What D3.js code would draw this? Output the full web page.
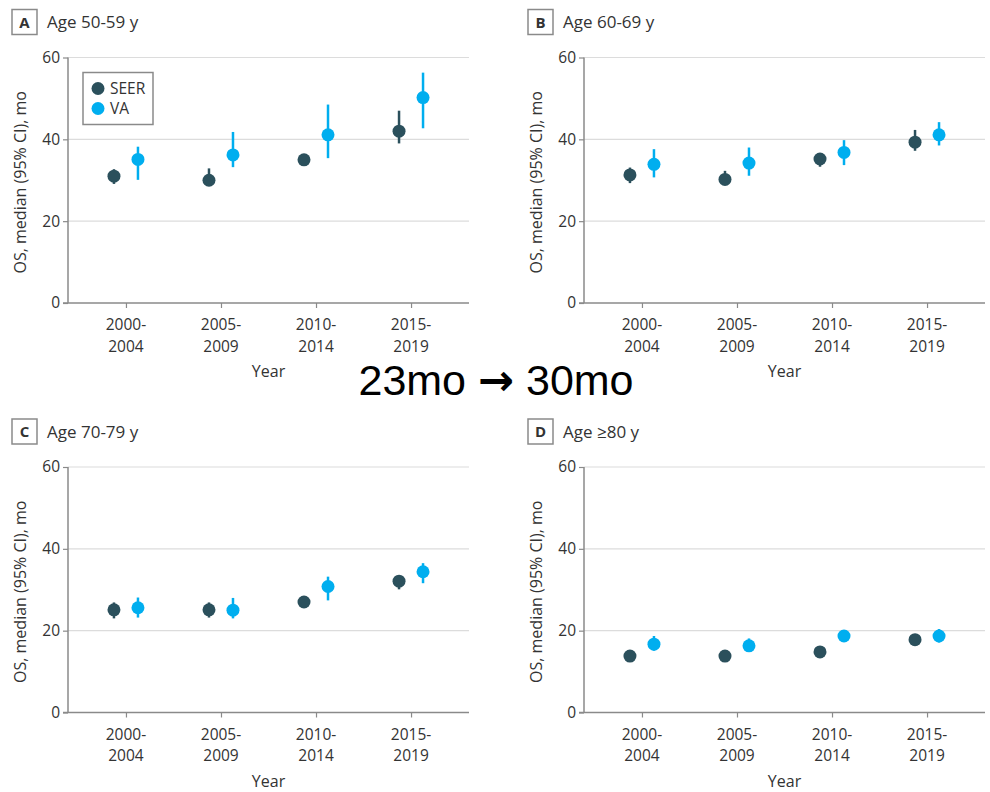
<!DOCTYPE html>
<html>
<head>
<meta charset="utf-8">
<title>OS by age group</title>
<script src="https://d3js.org/d3.v7.min.js"></script>
<style>
	body { margin: 0; background: #fff; }
	text { font-family: "Open Sans", "Noto Sans", sans-serif; fill: #333; }
</style>
</head>
<body>
<div id="container"></div>
<script>

//Data (median OS in months, with 95% CI)
var periods = ["2000-2004", "2005-2009", "2010-2014", "2015-2019"];
var tickTop = ["2000-", "2005-", "2010-", "2015-"];
var tickBottom = ["2004", "2009", "2014", "2019"];
var panelLetters = ["A", "B", "C", "D"];
var panelTitles = ["Age 50-59 y", "Age 60-69 y", "Age 70-79 y", "Age \u226580 y"];
var yTicks = [0, 20, 40, 60];

var seerMedian = [[31, 30, 35, 42], [31.3, 30.2, 35.2, 39.3], [25.1, 25.1, 27, 32.1], [13.8, 13.8, 14.8, 17.8]];
var seerLow = [[29.1, 28.9, 34, 39], [29.3, 28.9, 33.3, 37.2], [23, 23.2, 26, 30.1], [13, 13, 14, 17]];
var seerHigh = [[32.7, 32.9, 36, 47], [33.1, 32.3, 36.6, 42.3], [26.9, 26.9, 28, 33.4], [14.6, 14.6, 15.6, 18.6]];

var vaMedian = [[35.1, 36.2, 41.1, 50.2], [33.9, 34.2, 36.8, 41.1], [25.6, 25, 30.8, 34.4], [16.7, 16.3, 18.7, 18.7]];
var vaLow = [[30.1, 33.2, 35.4, 42.7], [30.7, 31.1, 33.7, 38.5], [23.2, 23, 27.4, 31.6], [15.1, 14.8, 17.6, 17.1]];
var vaHigh = [[38.2, 41.8, 48.5, 56.3], [37.6, 38, 39.8, 44.2], [28.1, 28, 33.2, 36.5], [18.7, 18.1, 19.8, 20.4]];

var seriesNames = ["SEER", "VA"];
var seriesColors = ["#2b505c", "#00aeef"];

var width = 990, height = 792;

var svg = d3.select("#container")
	.append("svg")
	.attr("width", width)
	.attr("height", height);

//Plot geometry
var plotW = 401, plotH = 245.5;
var colLeft = [68, 584];
var rowTop = [57.5, 467];

var x = d3.scalePoint().domain(periods).range([0, plotW]).padding(0.61);
var y = d3.scaleLinear().domain([0, 60]).range([plotH, 0]);
var dotOffset = 12;

panelLetters.forEach(function(letter, p) {
	var left = colLeft[p % 2];
	var top = rowTop[Math.floor(p / 2)];
	var g = svg.append("g").attr("transform", "translate(" + left + "," + top + ")");

	//Panel label box and title
	g.append("rect")
		.attr("x", -56).attr("y", -48)
		.attr("width", 25).attr("height", 25)
		.attr("fill", "#fff").attr("stroke", "#8a8a8a").attr("stroke-width", 1.5);
	g.append("text")
		.attr("x", -43.5).attr("y", -30)
		.attr("text-anchor", "middle")
		.style("font-size", "15px").style("font-weight", "bold")
		.text(letter);
	g.append("text")
		.attr("x", -21).attr("y", -29.5)
		.style("font-size", "17px")
		.text(panelTitles[p]);

	//Gridlines
	g.selectAll(".grid")
		.data(yTicks.filter(function(d) { return d > 0; }))
		.enter().append("line")
		.attr("x1", 0).attr("x2", plotW)
		.attr("y1", function(d) { return y(d); })
		.attr("y2", function(d) { return y(d); })
		.attr("stroke", "#dcdcdc").attr("stroke-width", 1.2);

	//Y axis
	var yAxis = g.append("g")
		.call(d3.axisLeft(y).tickValues(yTicks).tickSize(5).tickPadding(3));
	yAxis.select(".domain").attr("stroke", "#8a8a8a").attr("stroke-width", 1.5)
		.attr("d", "M0," + plotH + "V0");
	yAxis.selectAll(".tick line").attr("stroke", "#8a8a8a").attr("stroke-width", 1.2);
	yAxis.selectAll(".tick text").style("font-size", "15.5px").attr("fill", "#333")
		.style("font-family", "'Open Sans', sans-serif");

	//X axis
	var xAxis = g.append("g")
		.attr("transform", "translate(0," + plotH + ")")
		.call(d3.axisBottom(x).tickSize(5).tickFormat(""));
	xAxis.select(".domain").attr("stroke", "#8a8a8a").attr("stroke-width", 1.5)
		.attr("d", "M-5,0H" + plotW);
	xAxis.selectAll(".tick line").attr("stroke", "#8a8a8a").attr("stroke-width", 1.2);

	var labels = g.selectAll(".xlab")
		.data(periods)
		.enter().append("text")
		.attr("text-anchor", "middle")
		.style("font-size", "15.5px")
		.attr("transform", function(d) { return "translate(" + x(d) + "," + plotH + ")"; });
	labels.append("tspan").attr("x", 0).attr("y", 27)
		.text(function(d, i) { return tickTop[i]; });
	labels.append("tspan").attr("x", 0).attr("y", 48.5)
		.text(function(d, i) { return tickBottom[i]; });

	g.append("text")
		.attr("x", plotW / 2).attr("y", plotH + 74)
		.attr("text-anchor", "middle")
		.style("font-size", "16px")
		.text("Year");

	g.append("text")
		.attr("transform", "translate(-42," + (plotH / 2 + 2) + ") rotate(-90)")
		.attr("text-anchor", "middle")
		.style("font-size", "16px")
		.text("OS, median (95% CI), mo");

	//Points with CI bars
	var series = [
		{ med: seerMedian[p], lo: seerLow[p], hi: seerHigh[p], off: -dotOffset, color: seriesColors[0] },
		{ med: vaMedian[p], lo: vaLow[p], hi: vaHigh[p], off: dotOffset, color: seriesColors[1] }
	];
	series.forEach(function(s) {
		var sg = g.append("g");
		sg.selectAll("line")
			.data(periods)
			.enter().append("line")
			.attr("x1", function(d) { return x(d) + s.off; })
			.attr("x2", function(d) { return x(d) + s.off; })
			.attr("y1", function(d, i) { return y(s.lo[i]); })
			.attr("y2", function(d, i) { return y(s.hi[i]); })
			.attr("stroke", s.color).attr("stroke-width", 2.5);
		sg.selectAll("circle")
			.data(periods)
			.enter().append("circle")
			.attr("cx", function(d) { return x(d) + s.off; })
			.attr("cy", function(d, i) { return y(s.med[i]); })
			.attr("r", 6.5)
			.attr("fill", s.color);
	});

	//Legend only in first panel
	if (p === 0) {
		var lg = g.append("g").attr("transform", "translate(15,15)");
		lg.append("rect")
			.attr("width", 70).attr("height", 52)
			.attr("fill", "#fff").attr("stroke", "#8a8a8a").attr("stroke-width", 1.5);
		seriesNames.forEach(function(name, i) {
			lg.append("circle")
				.attr("cx", 15).attr("cy", 16 + i * 20).attr("r", 6.5)
				.attr("fill", seriesColors[i]);
			lg.append("text")
				.attr("x", 27).attr("y", 21.5 + i * 20)
				.style("font-size", "15.5px")
				.text(name);
		});
	}
});

//Annotation between the panels
var note = svg.append("text")
	.attr("x", 496).attr("y", 395)
	.attr("text-anchor", "middle")
	.style("font-family", "'Liberation Sans', Arial, sans-serif")
	.style("font-size", "43px")
	.style("fill", "#000");
note.append("tspan").text("23mo ");
note.append("tspan")
	.style("font-family", "'DejaVu Sans', sans-serif")
	.style("font-weight", "bold")
	.text("\u2192");
note.append("tspan").text(" 30mo");

</script>
</body>
</html>
